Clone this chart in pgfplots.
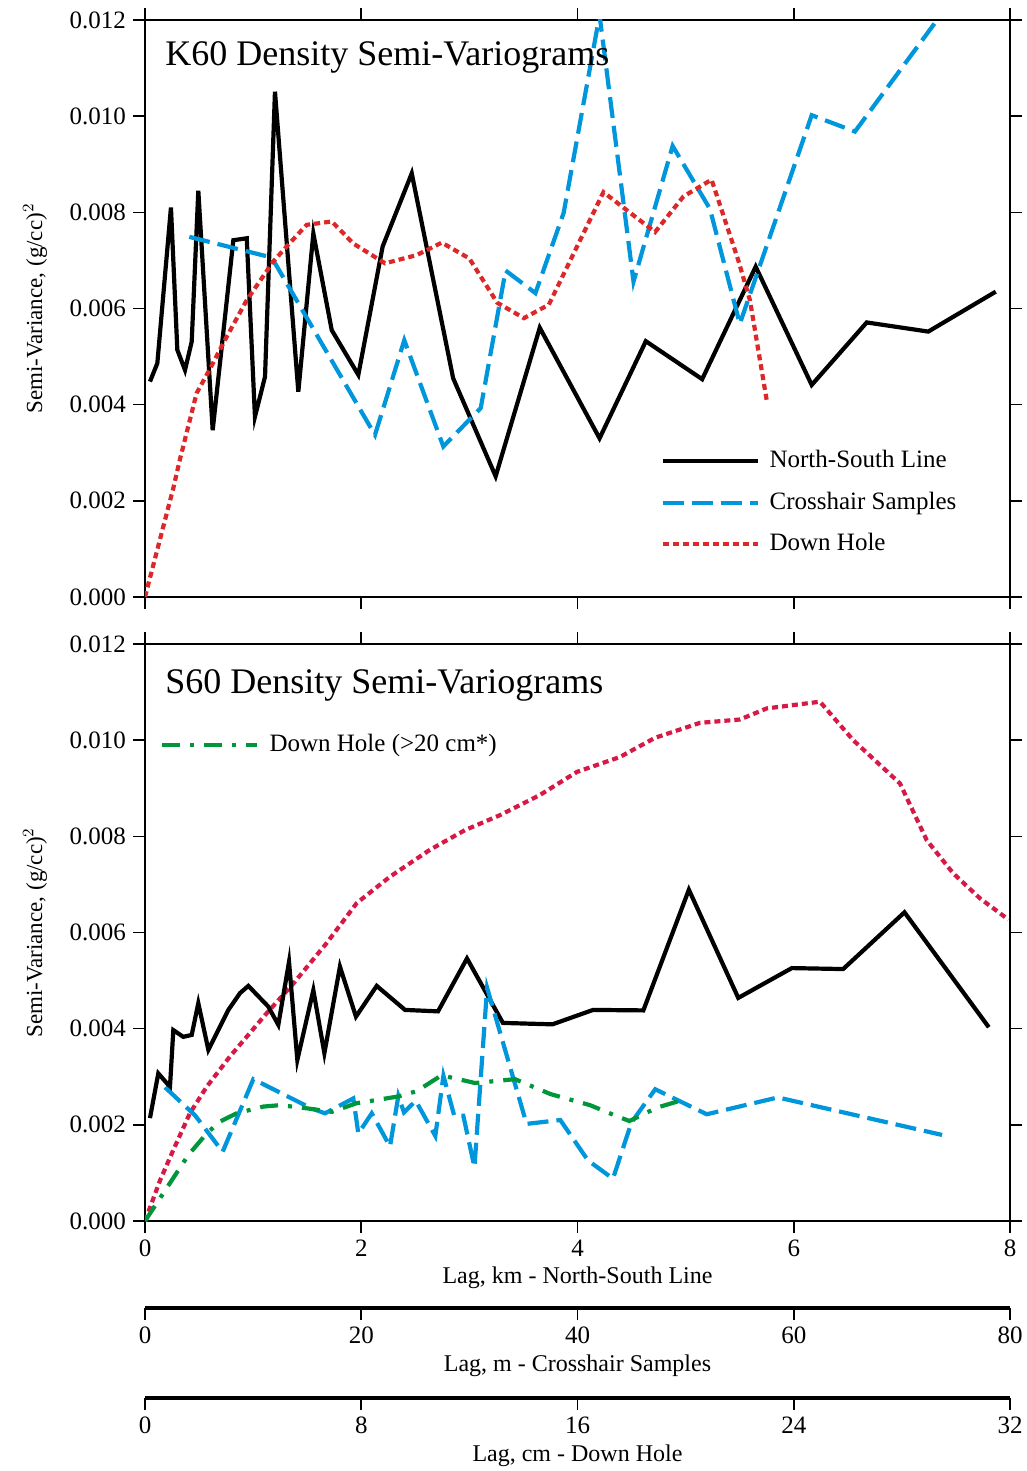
\documentclass[border=0pt]{standalone}
\usepackage{fontspec}
\setmainfont{Liberation Serif}
\usepackage{pgfplots}
\pgfplotsset{compat=1.18}

\definecolor{chblue}{RGB}{0,150,220}
\definecolor{dhred}{RGB}{220,40,40}
\definecolor{dhcrimson}{RGB}{215,25,70}
\definecolor{dhgreen}{RGB}{0,150,60}

\pgfplotsset{
  panel/.style={
    scale only axis, width=432.5pt, height=288.5pt,
    xmin=0, xmax=8, ymin=0, ymax=0.012,
    xtick={0,2,4,6,8},
    ytick={0,0.002,0.004,0.006,0.008,0.010,0.012},
    tick align=outside, major tick length=6pt,
    axis line style={line width=1.4pt},
    every tick/.style={black, line width=0.8pt},
    scaled y ticks=false,
    yticklabel style={/pgf/number format/fixed, /pgf/number format/fixed zerofill, /pgf/number format/precision=3},
    /pgf/number format/assume math mode=true,
    tick label style={font=\fontsize{12.5}{15}\selectfont},
    ylabel={Semi-Variance, (g/cc)$^{2}$},
    y label style={at={(axis description cs:-0.127,0.5)}, anchor=center, font=\fontsize{11.5}{14}\selectfont},
    legend cell align=left,
    legend image code/.code={\draw[##1] (0pt,0pt) -- (47.5pt,0pt);},
  },
  scalebar/.style={
    scale only axis, width=432.5pt, height=10pt, anchor=south west,
    ymin=0, ymax=1,
    axis x line=bottom, axis y line=none,
    axis line style={line width=1.6pt, -}, x axis line style={-},
    tick align=outside, major tick length=6pt,
    every tick/.style={black, line width=0.8pt},
    /pgf/number format/assume math mode=true,
    tick label style={font=\fontsize{12.5}{15}\selectfont},
    x label style={at={(axis description cs:0.5,0)}, anchor=center, yshift=-29pt, font=\fontsize{12}{14}\selectfont},
  },
  ns/.style={black, line width=2.1pt},
  ch/.style={chblue, line width=2.1pt, dash pattern=on 10.5pt off 4pt},
  dh/.style={dhred, line width=2.1pt, dash pattern=on 3pt off 2pt},
  dhb/.style={dhcrimson, line width=2.1pt, dash pattern=on 3pt off 2pt},
  dhg/.style={dhgreen, line width=2.1pt, dash pattern=on 9pt off 5pt on 2pt off 5pt},
}

\begin{document}
\begin{tikzpicture}
\useasboundingbox (0,0) rectangle (513.5pt,-735.5pt);

% ---------------- Top panel: K60 ----------------
\begin{axis}[panel, at={(72.5pt,-10pt)}, anchor=north west,
  xticklabels={},
  legend style={at={(0.5954,0.2558)}, anchor=north west, draw=none, fill=none,
    inner sep=0pt, row sep=9.25pt, column sep=5pt,
    font=\fontsize{12.5}{14}\selectfont,
    nodes={inner sep=0pt, text height=9pt, text depth=2.5pt}},
]
% North-South Line (km)
\addplot[ns] table {
x y
0.046 0.00448
0.114 0.00486
0.240 0.00810
0.299 0.00514
0.370 0.00472
0.432 0.00531
0.493 0.00845
0.626 0.00347
0.817 0.00742
0.941 0.00746
1.017 0.00375
1.110 0.00458
1.202 0.01051
1.418 0.00427
1.557 0.00756
1.727 0.00555
1.973 0.00462
2.198 0.00729
2.467 0.00881
2.850 0.00455
3.243 0.00251
3.651 0.00560
4.204 0.00330
4.632 0.00532
5.153 0.00453
5.648 0.00687
6.166 0.00441
6.675 0.00571
7.244 0.00552
7.868 0.00635
};
\addlegendentry{North-South Line}
% Crosshair Samples (m)
\addplot[ch] table[x expr=\thisrowno{0}/10, y index=1] {
m y
4.10 0.00749
11.72 0.00706
21.27 0.00337
23.98 0.00534
27.59 0.00313
31.05 0.00393
33.35 0.00679
36.11 0.00632
38.72 0.00799
42.04 0.01210
45.18 0.00656
48.80 0.00938
52.25 0.00807
55.01 0.00568
61.66 0.01002
65.66 0.00968
73.06 0.01194
};
\addlegendentry{Crosshair Samples}
% Down Hole (cm)
\addplot[dh] table[x expr=\thisrowno{0}/4, y index=1] {
cm y
0.00 0.00000
1.05 0.00227
1.30 0.00288
1.91 0.00424
2.40 0.00474
3.02 0.00541
3.76 0.00617
4.75 0.00698
5.24 0.00729
5.98 0.00774
6.91 0.00781
7.71 0.00735
8.88 0.00694
10.05 0.00711
10.98 0.00737
12.00 0.00704
13.03 0.00612
14.02 0.00580
14.94 0.00608
16.96 0.00842
18.87 0.00759
19.92 0.00833
20.96 0.00868
21.95 0.00700
22.38 0.00617
23.00 0.00409
};
\addlegendentry{Down Hole}
\node[anchor=base west, font=\fontsize{18}{20}\selectfont, inner sep=0pt]
  at (rel axis cs:0.0231,0.9203) {K60 Density Semi-Variograms};
\end{axis}

% ---------------- Bottom panel: S60 ----------------
\begin{axis}[panel, at={(72.5pt,-322pt)}, anchor=north west,
  xlabel={Lag, km - North-South Line},
  x label style={at={(axis description cs:0.5,0)}, anchor=center, yshift=-28.5pt, font=\fontsize{12}{14}\selectfont},
  legend style={at={(0.0173,0.8458)}, anchor=north west, draw=none, fill=none,
    inner sep=0pt, column sep=5pt,
    font=\fontsize{12.5}{14}\selectfont,
    nodes={inner sep=0pt, text height=9pt, text depth=2.5pt}},
]
% Down Hole (cm)
\addplot[dhb, forget plot] table[x expr=\thisrowno{0}/4, y index=1] {
cm y
0.00 0.00000
0.56 0.00085
1.05 0.00148
1.66 0.00224
2.28 0.00279
3.14 0.00342
4.50 0.00432
5.49 0.00494
6.72 0.00578
7.83 0.00661
9.06 0.00716
10.54 0.00772
11.84 0.00813
13.13 0.00844
14.61 0.00886
15.98 0.00934
17.57 0.00965
18.87 0.01005
20.53 0.01036
22.01 0.01043
23.00 0.01066
24.97 0.01080
26.20 0.01000
27.93 0.00910
28.92 0.00792
29.90 0.00723
30.89 0.00671
31.94 0.00627
};
% North-South Line (km)
\addplot[ns, forget plot] table {
x y
0.046 0.00214
0.123 0.00307
0.231 0.00279
0.262 0.00397
0.354 0.00383
0.432 0.00387
0.493 0.00453
0.586 0.00356
0.771 0.00439
0.879 0.00474
0.956 0.00489
1.140 0.00446
1.233 0.00408
1.332 0.00539
1.409 0.00335
1.557 0.00480
1.659 0.00349
1.803 0.00529
1.951 0.00425
2.143 0.00489
2.405 0.00439
2.710 0.00436
2.978 0.00546
3.310 0.00412
3.768 0.00409
4.144 0.00439
4.609 0.00438
5.030 0.00689
5.487 0.00464
5.982 0.00526
6.457 0.00524
7.024 0.00642
7.804 0.00403
};
% Crosshair Samples (m)
\addplot[ch, forget plot] table[x expr=\thisrowno{0}/10, y index=1] {
m y
1.85 0.00278
4.62 0.00220
7.18 0.00144
10.02 0.00295
15.41 0.00234
16.65 0.00224
19.27 0.00255
19.73 0.00182
20.97 0.00224
22.66 0.00155
23.43 0.00260
23.95 0.00226
25.04 0.00250
26.85 0.00177
27.60 0.00302
28.60 0.00219
29.44 0.00219
30.47 0.00112
31.64 0.00485
35.29 0.00202
38.41 0.00210
40.97 0.00126
43.28 0.00088
44.99 0.00205
47.19 0.00274
51.95 0.00222
58.53 0.00257
73.72 0.00179
};
% Down Hole >20 cm (cm)
\addplot[dhg] table[x expr=\thisrowno{0}/4, y index=1] {
cm y
0.00 0.00000
0.68 0.00058
1.60 0.00137
2.28 0.00182
2.78 0.00207
3.39 0.00224
4.38 0.00238
5.00 0.00241
6.04 0.00234
6.91 0.00227
7.83 0.00245
9.37 0.00259
10.05 0.00270
10.97 0.00303
12.21 0.00287
13.69 0.00295
15.00 0.00264
16.46 0.00241
17.41 0.00219
17.92 0.00208
18.95 0.00236
19.97 0.00253
};
\addlegendentry{Down Hole (>20 cm*)}
\node[anchor=base west, font=\fontsize{18}{20}\selectfont, inner sep=0pt]
  at (rel axis cs:0.0231,0.9146) {S60 Density Semi-Variograms};
\end{axis}

% ---------------- Extra scale: Crosshair (m) ----------------
\begin{axis}[scalebar, at={(72.5pt,-654pt)},
  xmin=0, xmax=80, xtick={0,20,40,60,80},
  xlabel={Lag, m - Crosshair Samples}]
\end{axis}

% ---------------- Extra scale: Down Hole (cm) ----------------
\begin{axis}[scalebar, at={(72.5pt,-699pt)},
  xmin=0, xmax=32, xtick={0,8,16,24,32},
  xlabel={Lag, cm - Down Hole}]
\end{axis}
\end{tikzpicture}
\end{document}
